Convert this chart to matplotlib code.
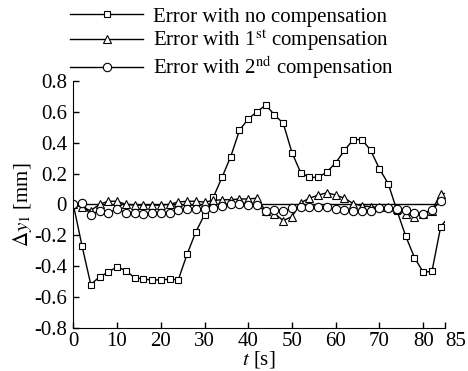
import numpy as np
import matplotlib
matplotlib.use("Agg")
import matplotlib.pyplot as plt

plt.rcParams['font.family'] = ['Liberation Serif', 'DejaVu Serif']
plt.rcParams['mathtext.fontset'] = 'stix'

# sample times (last point at 85 s has no marker)
t = [0, 2, 4, 6, 8, 10, 12, 14, 16, 18, 20, 22, 24, 26, 28, 30, 32, 34, 36, 38, 40, 42,
     44, 46, 48, 50, 52, 54, 56, 58, 60, 62, 64, 66, 68, 70, 72, 74, 76, 78, 80, 82, 84, 85]

err_none = [0.0, -0.27, -0.52, -0.47, -0.44, -0.405, -0.43, -0.475, -0.485, -0.49, -0.49,
            -0.485, -0.49, -0.325, -0.18, -0.067, 0.045, 0.175, 0.31, 0.48, 0.555, 0.60,
            0.645, 0.58, 0.526, 0.335, 0.205, 0.175, 0.175, 0.21, 0.27, 0.35, 0.42, 0.42,
            0.35, 0.23, 0.134, -0.04, -0.206, -0.345, -0.44, -0.435, -0.145, -0.11]

err_first = [0.0, -0.02, -0.04, 0.0, 0.02, 0.02, 0.0, -0.005, -0.005, -0.005, -0.005,
             0.0, 0.015, 0.02, 0.02, 0.015, 0.025, 0.03, 0.03, 0.035, 0.035, 0.04,
             -0.045, -0.06, -0.105, -0.08, 0.01, 0.04, 0.06, 0.075, 0.06, 0.04, 0.005,
             -0.01, -0.015, -0.02, -0.02, -0.03, -0.06, -0.08, -0.06, -0.04, 0.07, 0.07]

err_second = [0.0, 0.01, -0.07, -0.04, -0.055, -0.03, -0.055, -0.055, -0.06, -0.055, -0.055,
              -0.055, -0.035, -0.03, -0.03, -0.03, -0.025, -0.01, 0.0, 0.0, -0.005, -0.005,
              -0.045, -0.035, -0.045, -0.025, -0.02, -0.02, -0.015, -0.02, -0.03, -0.035,
              -0.04, -0.04, -0.04, -0.025, -0.025, -0.03, -0.035, -0.055, -0.06, -0.035,
              0.02, 0.02]

xticks = [0, 10, 20, 30, 40, 50, 60, 70, 80, 85]
yticks = [-0.8, -0.6, -0.4, -0.2, 0, 0.2, 0.4, 0.6, 0.8]
ytick_labels = ['-0.8', '-0.6', '-0.4', '-0.2', '0', '0.2', '0.4', '0.6', '0.8']

fig = plt.figure(figsize=(4.68, 3.71), dpi=100)
ax = fig.add_axes([0.1566, 0.1167, 0.7944, 0.665])

mk = slice(0, len(t) - 1)
ax.hlines(0, 0, 84, color='black', lw=1.0)
l1, = ax.plot(t, err_none, color='black', lw=1.0, marker='s', ms=4.5,
              mfc='white', mec='black', mew=0.8, markevery=mk,
              label='Error with no compensation')
l2, = ax.plot(t, err_first, color='black', lw=1.0, marker='^', ms=5.5,
              mfc='white', mec='black', mew=0.8, markevery=mk,
              label='Error with 1$^{\\mathrm{st}}$ compensation')
l3, = ax.plot(t, err_second, color='black', lw=1.0, marker='o', ms=6,
              mfc='white', mec='black', mew=0.8, markevery=mk,
              label='Error with 2$^{\\mathrm{nd}}$ compensation')

ax.set_xlim(0, 85)
ax.set_ylim(-0.8, 0.8)
ax.set_xticks(xticks)
ax.set_yticks(yticks)
ax.set_yticklabels(ytick_labels)
ax.spines['top'].set_visible(False)
ax.spines['right'].set_visible(False)
ax.tick_params(direction='in', length=4.5, width=1, labelsize=15)
ax.tick_params(axis='x', pad=3)
ax.tick_params(axis='y', pad=4.5)
# last x label sits just right of its tick, as in the original
ax.get_xticklabels()[-1].set_horizontalalignment('left')
ax.set_xlabel('$t$ [s]', fontsize=15, labelpad=-1)
ax.set_ylabel('$\\Delta y_1$ [mm]', fontsize=15, labelpad=0)

fig.legend(handles=[l1, l2, l3], loc='upper left', bbox_to_anchor=(0.123, 1.015),
           frameon=False, fontsize=15, handlelength=3.5, handletextpad=0.5,
           labelspacing=0.05, borderaxespad=0.2)

fig.savefig('out.png', dpi=100)
